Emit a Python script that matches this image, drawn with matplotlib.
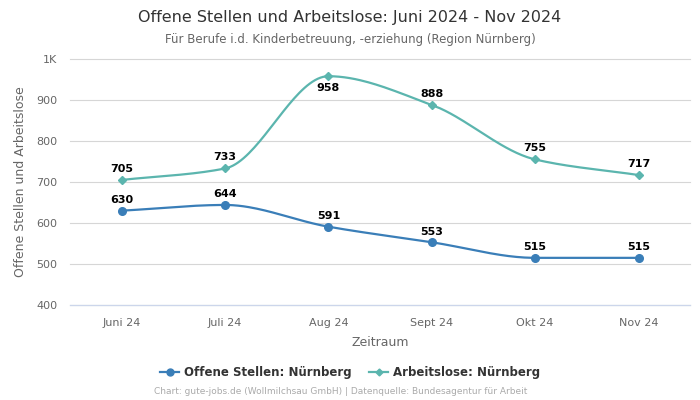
import numpy as np
import matplotlib
matplotlib.use("Agg")
import matplotlib.pyplot as plt

categories = ["Juni 24", "Juli 24", "Aug 24", "Sept 24", "Okt 24", "Nov 24"]
offene = [630, 644, 591, 553, 515, 515]
arbeitslose = [705, 733, 958, 888, 755, 717]
yticks = [400, 500, 600, 700, 800, 900, 1000]
ytick_labels = ["400", "500", "600", "700", "800", "900", "1K"]

BLUE = "#3a7eb8"
TEAL = "#5bb5ae"

def monotone(x, y, n=40):
    x = np.asarray(x, float); y = np.asarray(y, float)
    h = np.diff(x); d = np.diff(y) / h
    m = np.zeros_like(y)
    m[0] = d[0]; m[-1] = d[-1]
    for i in range(1, len(y) - 1):
        if d[i-1] * d[i] <= 0:
            m[i] = 0
        else:
            w1 = 2*h[i] + h[i-1]; w2 = h[i] + 2*h[i-1]
            m[i] = (w1 + w2) / (w1/d[i-1] + w2/d[i])
    xs, ys = [], []
    for i in range(len(h)):
        t = np.linspace(0, 1, n)
        h00 = 2*t**3 - 3*t**2 + 1; h10 = t**3 - 2*t**2 + t
        h01 = -2*t**3 + 3*t**2; h11 = t**3 - t**2
        xs.append(x[i] + t*h[i])
        ys.append(h00*y[i] + h10*h[i]*m[i] + h01*y[i+1] + h11*h[i]*m[i+1])
    return np.concatenate(xs), np.concatenate(ys)

fig = plt.figure(figsize=(7, 4), dpi=100)
ax = fig.add_axes([0.1, 0.2375, 0.886, 0.615])
x = np.arange(len(categories))

for vals, col, mk, ms in [(arbeitslose, TEAL, "D", 3.8), (offene, BLUE, "o", 5.5)]:
    sx, sy = monotone(x, vals)
    ax.plot(sx, sy, color=col, lw=1.6, zorder=3)
    ax.plot(x, vals, ls="none", marker=mk, ms=ms, color=col, zorder=4)

for i, v in enumerate(offene):
    ax.annotate(str(v), (i, v), xytext=(0, 4), textcoords="offset points",
                ha="center", va="bottom", fontsize=8, fontweight="bold", color="black", zorder=5)
for i, v in enumerate(arbeitslose):
    if i == 2:
        ax.annotate(str(v), (i, v), xytext=(0, -5), textcoords="offset points",
                    ha="center", va="top", fontsize=8, fontweight="bold", color="black", zorder=5)
    else:
        ax.annotate(str(v), (i, v), xytext=(0, 4.5), textcoords="offset points",
                    ha="center", va="bottom", fontsize=8, fontweight="bold", color="black", zorder=5)

ax.set_xlim(-0.5, len(categories) - 0.5)
ax.set_ylim(400, 1000)
ax.set_yticks(yticks)
ax.set_yticklabels(ytick_labels)
ax.set_xticks(x)
ax.set_xticklabels(categories)
ax.grid(axis="y", color="#d6d6d6", lw=0.8)
for gl in ax.get_ygridlines():
    gl.set_clip_on(False)
ax.axhline(400, color="#ccd6eb", lw=0.9, clip_on=False, zorder=1)
ax.set_axisbelow(True)
for s in ax.spines.values():
    s.set_visible(False)
ax.tick_params(axis="both", length=0, labelsize=8, colors="#666666")
ax.tick_params(axis="x", pad=9)
ax.tick_params(axis="y", pad=9)
ax.set_xlabel("Zeitraum", fontsize=9, color="#666666", labelpad=6)
ax.set_ylabel("Offene Stellen und Arbeitslose", fontsize=9, color="#666666", labelpad=7)

fig.text(0.5, 0.957, "Offene Stellen und Arbeitslose: Juni 2024 - Nov 2024",
         ha="center", va="center", fontsize=11.5, color="#333333")
fig.text(0.5, 0.902, "Für Berufe i.d. Kinderbetreuung, -erziehung (Region Nürnberg)",
         ha="center", va="center", fontsize=8.5, color="#666666")

from matplotlib.lines import Line2D
handles = [Line2D([], [], color=BLUE, marker="o", ms=5, lw=1.6),
           Line2D([], [], color=TEAL, marker="D", ms=3.5, lw=1.6)]
fig.legend(handles, ["Offene Stellen: Nürnberg", "Arbeitslose: Nürnberg"],
           loc="center", bbox_to_anchor=(0.5, 0.068), ncol=2, frameon=False,
           prop={"size": 8.5, "weight": "bold"}, labelcolor="#333333",
           handlelength=1.6, handletextpad=0.4, columnspacing=1.5)
fig.text(0.486, 0.02, "Chart: gute-jobs.de (Wollmilchsau GmbH) | Datenquelle: Bundesagentur für Arbeit",
         ha="center", va="center", fontsize=6.5, color="#aaaaaa")

fig.savefig("out.png", dpi=100)
